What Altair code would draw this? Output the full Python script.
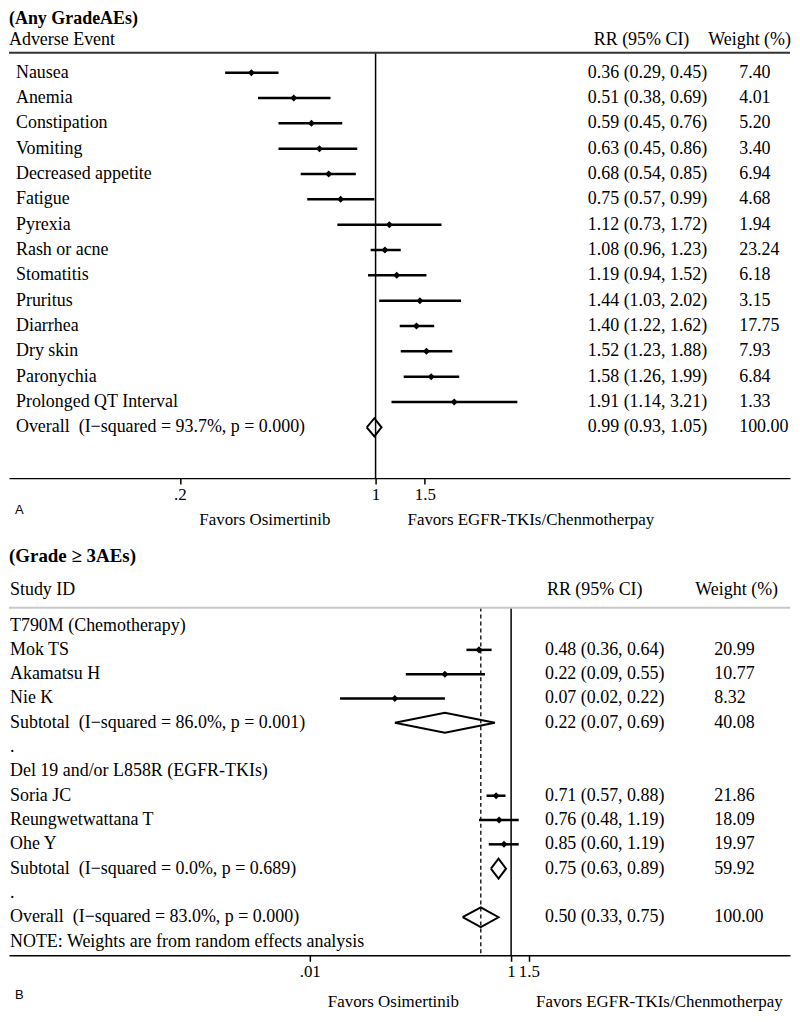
import altair as alt
import pandas as pd

FONT = "Liberation Serif"

# ---------------- Panel A: Any grade AEs ----------------
a_events = ["Nausea", "Anemia", "Constipation", "Vomiting", "Decreased appetite",
            "Fatigue", "Pyrexia", "Rash or acne", "Stomatitis", "Pruritus",
            "Diarrhea", "Dry skin", "Paronychia", "Prolonged QT Interval"]
a_rr = [0.36, 0.51, 0.59, 0.63, 0.68, 0.75, 1.12, 1.08, 1.19, 1.44, 1.40, 1.52, 1.58, 1.91]
a_lo = [0.29, 0.38, 0.45, 0.45, 0.54, 0.57, 0.73, 0.96, 0.94, 1.03, 1.22, 1.23, 1.26, 1.14]
a_hi = [0.45, 0.69, 0.76, 0.86, 0.85, 0.99, 1.72, 1.23, 1.52, 2.02, 1.62, 1.88, 1.99, 3.21]
a_weight = ["7.40", "4.01", "5.20", "3.40", "6.94", "4.68", "1.94", "23.24", "6.18",
            "3.15", "17.75", "7.93", "6.84", "1.33"]
a_overall_label = "Overall\u00a0\u00a0(I\u2212squared = 93.7%, p = 0.000)"
a_overall_rr = [0.99, 0.93, 1.05]
a_overall_weight = "100.00"
a_ticks = [0.2, 1, 1.5]

# ---------------- Panel B: Grade >= 3 AEs ----------------
b_labels = ["T790M (Chemotherapy)", "Mok TS", "Akamatsu H", "Nie K",
            "Subtotal\u00a0\u00a0(I\u2212squared = 86.0%, p = 0.001)", ".",
            "Del 19 and/or L858R (EGFR-TKIs)", "Soria JC", "Reungwetwattana T", "Ohe Y",
            "Subtotal\u00a0\u00a0(I\u2212squared = 0.0%, p = 0.689)", ".",
            "Overall\u00a0\u00a0(I\u2212squared = 83.0%, p = 0.000)",
            "NOTE: Weights are from random effects analysis"]
b_kind = ["head", "study", "study", "study", "pooled", "blank",
          "head", "study", "study", "study", "pooled", "blank", "pooled", "note"]
b_rr = [None, 0.48, 0.22, 0.07, 0.22, None, None, 0.71, 0.76, 0.85, 0.75, None, 0.50, None]
b_lo = [None, 0.36, 0.09, 0.02, 0.07, None, None, 0.57, 0.48, 0.60, 0.63, None, 0.33, None]
b_hi = [None, 0.64, 0.55, 0.22, 0.69, None, None, 0.88, 1.19, 1.19, 0.89, None, 0.75, None]
b_weight = ["", "20.99", "10.77", "8.32", "40.08", "", "", "21.86", "18.09", "19.97",
            "59.92", "", "100.00", ""]
b_ticks = [0.01, 1, 1.5]

W = 784
FS = 18


def fmt(rr, lo, hi):
    return f"{rr:.2f} ({lo:.2f}, {hi:.2f})"


def const_text(text, x, y, size=FS, bold=False, font=FONT, align="left"):
    return alt.Chart(pd.DataFrame({"t": [text]})).mark_text(
        align=align, baseline="middle", font=font, fontSize=size,
        fontWeight="bold" if bold else "normal", color="black"
    ).encode(x=alt.value(x), y=alt.value(y), text="t:N")


def diamond_df(items, h):
    rows = []
    for g, (row, est, lo, hi) in enumerate(items):
        pts = [(lo, row), (est, row - h), (hi, row), (est, row + h), (lo, row)]
        for i, (x, y) in enumerate(pts):
            rows.append({"g": g, "i": i, "x": x, "y": y})
    return pd.DataFrame(rows)


def make_axis(ticks, offset):
    return alt.Axis(values=ticks, format="~g",
                    labelExpr="datum.value < 1 ? slice(datum.label, 1) : datum.label",
                    title=None, grid=False, tickSize=6, tickWidth=1.5, tickColor="black",
                    domainColor="black", domainWidth=1.5, labelFont=FONT, labelFontSize=17,
                    labelColor="black", labelPadding=2, offset=offset,
                    labelOverlap=False, labelFlush=False)


def xenc(field, xsc, axis):
    return alt.X(field, type="quantitative", scale=xsc, axis=axis)


def row_text(df, field, x, ysc):
    return alt.Chart(df).mark_text(align="left", baseline="middle", font=FONT,
                                   fontSize=FS, color="black").encode(
        x=alt.value(x), y=alt.Y("row:Q", scale=ysc, axis=None), text=f"{field}:N")


# ================= Panel A =================
HA = 530
A_AXIS_Y = 470
a_xsc = alt.Scale(type="log", domain=[0.04899, 30.26], nice=False)
a_axis = make_axis(a_ticks, A_AXIS_Y - HA)
a_y0, a_dy = 63, 25.43
a_ysc = alt.Scale(domain=[-a_y0 / a_dy, (HA - a_y0) / a_dy], reverse=True, nice=False, zero=False)

a_df = pd.DataFrame({
    "label": a_events + [a_overall_label],
    "row": list(range(len(a_events) + 1)),
    "rrtxt": [fmt(r, l, h) for r, l, h in zip(a_rr, a_lo, a_hi)] + [fmt(*a_overall_rr)],
    "weight": a_weight + [a_overall_weight],
})
a_study = pd.DataFrame({"row": list(range(len(a_events))), "rr": a_rr, "lo": a_lo, "hi": a_hi})
a_dia = diamond_df([(len(a_events), *a_overall_rr)], 0.36)

a_layers = [
    alt.Chart(pd.DataFrame({"v": [1]})).mark_rule(color="black", strokeWidth=1.5).encode(
        x=xenc("v", a_xsc, a_axis), y=alt.value(43), y2=alt.value(A_AXIS_Y)),
    alt.Chart(pd.DataFrame({"v": [1]})).mark_rule(color="#333333", strokeWidth=2).encode(
        x=alt.value(0), x2=alt.value(W), y=alt.value(43)),
    alt.Chart(a_study).mark_rule(color="black", strokeWidth=2.5).encode(
        x=xenc("lo", a_xsc, a_axis), x2="hi",
        y=alt.Y("row:Q", scale=a_ysc, axis=None)),
    alt.Chart(a_study).mark_point(shape="diamond", filled=True, size=50, color="black", opacity=1).encode(
        x=xenc("rr", a_xsc, a_axis), y=alt.Y("row:Q", scale=a_ysc, axis=None)),
    alt.Chart(a_dia).mark_line(color="black", strokeWidth=2).encode(
        x=xenc("x", a_xsc, a_axis), y=alt.Y("y:Q", scale=a_ysc, axis=None),
        order="i:Q", detail="g:N"),
    row_text(a_df, "label", 7, a_ysc),
    row_text(a_df, "rrtxt", 581, a_ysc),
    row_text(a_df, "weight", 733, a_ysc),
    const_text("(Any GradeAEs)", 0, 9, size=18, bold=True),
    const_text("Adverse Event", 0, 30),
    const_text("RR (95% CI)", 587, 30),
    const_text("Weight (%)", 702, 30),
    const_text("A", 6, 502, size=13, font="Liberation Sans"),
    const_text("Favors Osimertinib", 191, 512, size=17),
    const_text("Favors EGFR-TKIs/Chenmotherpay", 400, 512, size=17),
]
panel_a = alt.layer(*a_layers).properties(width=W, height=HA)

# ================= Panel B =================
HB = 474
B_AXIS_Y = 417
b_xsc = alt.Scale(type="log", domain=[1.03e-5, 589], nice=False)
b_axis = make_axis(b_ticks, B_AXIS_Y - HB)
b_y0, b_dy = 86, 24.4
b_ysc = alt.Scale(domain=[-b_y0 / b_dy, (HB - b_y0) / b_dy], reverse=True, nice=False, zero=False)

b_df = pd.DataFrame({
    "label": b_labels,
    "row": list(range(len(b_labels))),
    "rrtxt": [fmt(r, l, h) if r is not None else "" for r, l, h in zip(b_rr, b_lo, b_hi)],
    "weight": b_weight,
})
b_study = pd.DataFrame([
    {"row": i, "rr": b_rr[i], "lo": b_lo[i], "hi": b_hi[i]}
    for i, k in enumerate(b_kind) if k == "study"])
b_dia = diamond_df([(i, b_rr[i], b_lo[i], b_hi[i]) for i, k in enumerate(b_kind) if k == "pooled"], 0.41)
b_overall = b_rr[b_kind.index("pooled", 11)]

b_layers = [
    alt.Chart(pd.DataFrame({"v": [1]})).mark_rule(color="black", strokeWidth=1.5).encode(
        x=xenc("v", b_xsc, b_axis), y=alt.value(68), y2=alt.value(B_AXIS_Y)),
    alt.Chart(pd.DataFrame({"v": [b_overall]})).mark_rule(color="black", strokeWidth=1.3, strokeDash=[4, 3]).encode(
        x=xenc("v", b_xsc, b_axis), y=alt.value(68), y2=alt.value(B_AXIS_Y)),
    alt.Chart(pd.DataFrame({"v": [1]})).mark_rule(color="#c8c8c8", strokeWidth=2).encode(
        x=alt.value(0), x2=alt.value(W), y=alt.value(68)),
    alt.Chart(b_study).mark_rule(color="black", strokeWidth=2.5).encode(
        x=xenc("lo", b_xsc, b_axis), x2="hi",
        y=alt.Y("row:Q", scale=b_ysc, axis=None)),
    alt.Chart(b_study).mark_point(shape="diamond", filled=True, size=50, color="black", opacity=1).encode(
        x=xenc("rr", b_xsc, b_axis), y=alt.Y("row:Q", scale=b_ysc, axis=None)),
    alt.Chart(b_dia).mark_line(color="black", strokeWidth=2).encode(
        x=xenc("x", b_xsc, b_axis), y=alt.Y("y:Q", scale=b_ysc, axis=None),
        order="i:Q", detail="g:N"),
    row_text(b_df, "label", 1, b_ysc),
    row_text(b_df, "rrtxt", 538, b_ysc),
    row_text(b_df, "weight", 708, b_ysc),
    const_text("(Grade \u2265 3AEs)", 0, 16, size=19, bold=True),
    const_text("Study ID", 1, 50),
    const_text("RR (95% CI)", 540, 50),
    const_text("Weight (%)", 689, 50),
    const_text("B", 6, 457, size=13, font="Liberation Sans"),
    const_text("Favors Osimertinib", 320, 464, size=17),
    const_text("Favors EGFR-TKIs/Chenmotherpay", 529, 464, size=17),
]
panel_b = alt.layer(*b_layers).properties(width=W, height=HB)

chart = alt.vconcat(panel_a, panel_b, spacing=2).properties(padding=0).configure_view(stroke=None)

chart.save("out.html", embed_options={"renderer": "svg", "actions": False})
